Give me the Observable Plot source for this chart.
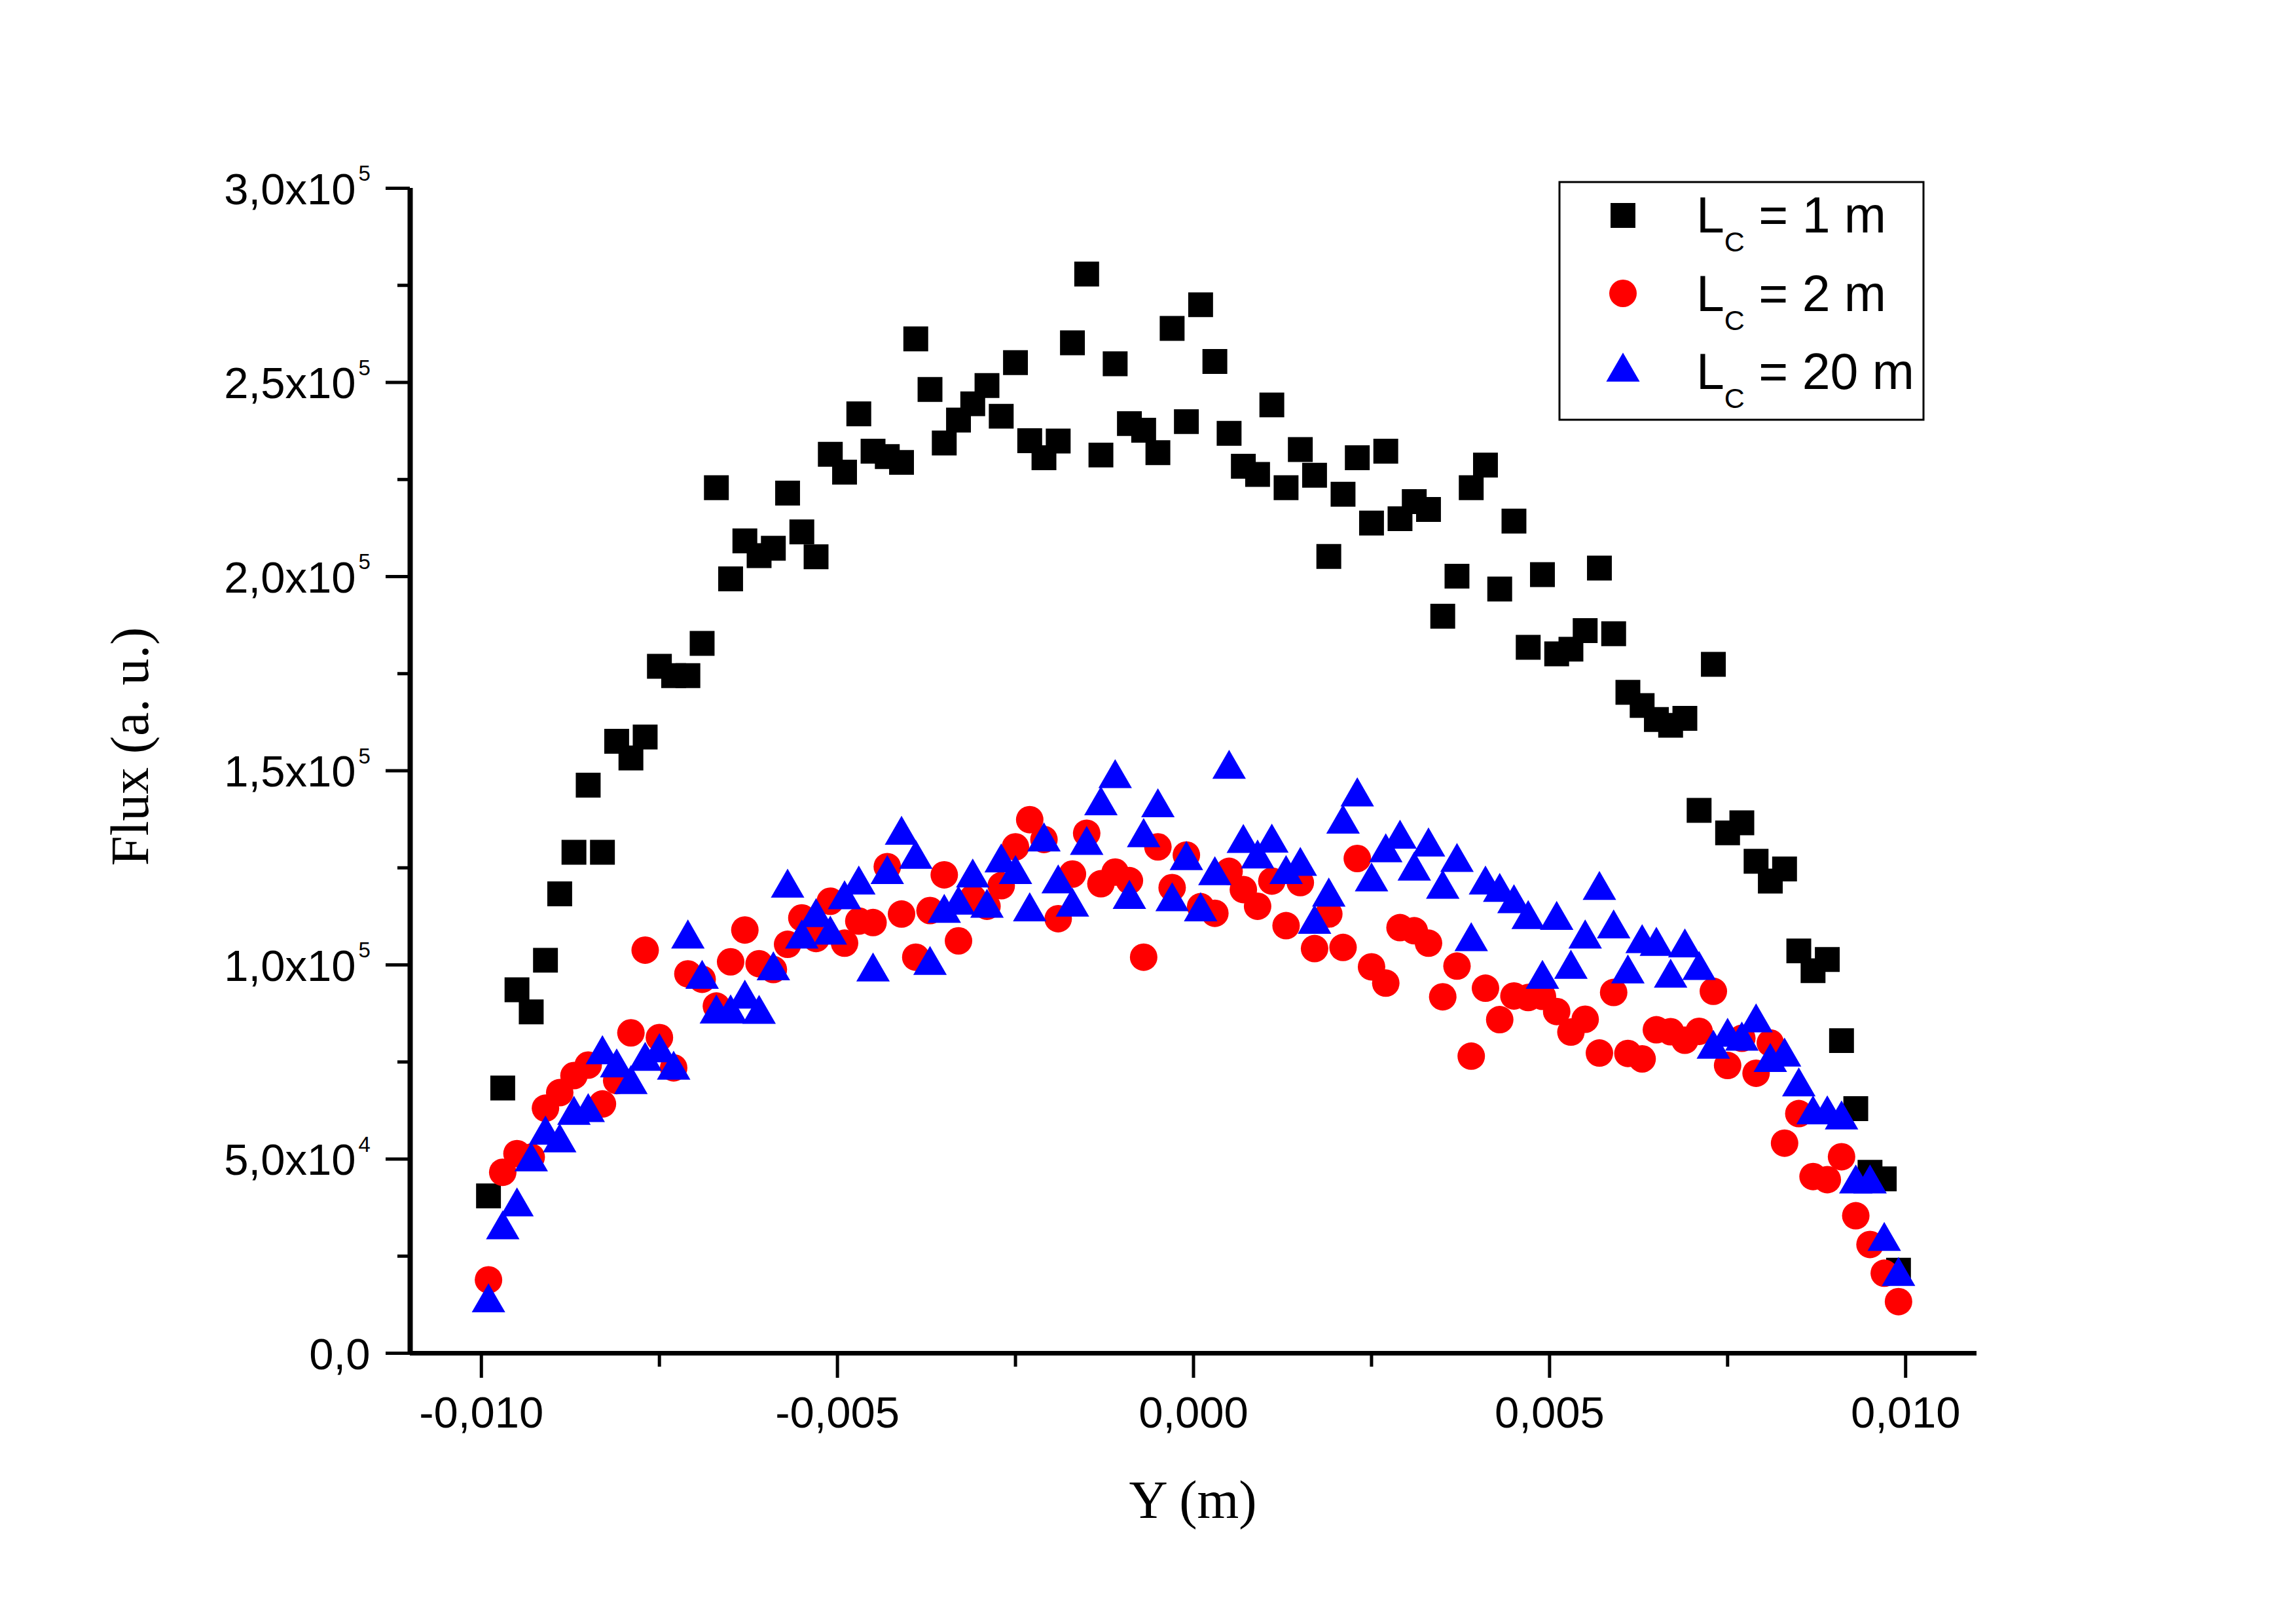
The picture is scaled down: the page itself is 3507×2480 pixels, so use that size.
<!DOCTYPE html>
<html>
<head>
<meta charset="utf-8">
<script src="https://cdn.jsdelivr.net/npm/d3@7"></script>
<script src="https://cdn.jsdelivr.net/npm/@observablehq/plot@0.6"></script>
<style>
html, body { margin: 0; padding: 0; background: #ffffff; }
svg { display: block; }
</style>
</head>
<body>
<div id="chart"></div>
<script>
// Position Y (m) of each sample
const positions = [
  -0.0099, -0.0097, -0.0095, -0.0093, -0.0091, -0.0089, -0.0087, -0.0085, -0.0083, -0.0081,
  -0.0079, -0.0077, -0.0075, -0.0073, -0.0071, -0.0069, -0.0067, -0.0065, -0.0063, -0.0061,
  -0.0059, -0.0057, -0.0055, -0.0053, -0.0051, -0.0049, -0.0047, -0.0045, -0.0043, -0.0041,
  -0.0039, -0.0037, -0.0035, -0.0033, -0.0031, -0.0029, -0.0027, -0.0025, -0.0023, -0.0021,
  -0.0019, -0.0017, -0.0015, -0.0013, -0.0011, -0.0009, -0.0007, -0.0005, -0.0003, -0.0001,
  0.0001, 0.0003, 0.0005, 0.0007, 0.0009, 0.0011, 0.0013, 0.0015, 0.0017, 0.0019,
  0.0021, 0.0023, 0.0025, 0.0027, 0.0029, 0.0031, 0.0033, 0.0035, 0.0037, 0.0039,
  0.0041, 0.0043, 0.0045, 0.0047, 0.0049, 0.0051, 0.0053, 0.0055, 0.0057, 0.0059,
  0.0061, 0.0063, 0.0065, 0.0067, 0.0069, 0.0071, 0.0073, 0.0075, 0.0077, 0.0079,
  0.0081, 0.0083, 0.0085, 0.0087, 0.0089, 0.0091, 0.0093, 0.0095, 0.0097, 0.0099
];

// Flux (a. u.) for L_C = 1 m
const flux1m = [
  40500, 68300, 93600, 87900, 101200, 118300, 129000, 146300, 129000, 157600,
  153300, 158700, 176900, 174500, 174500, 182800, 222900, 199400, 209200, 205400,
  207300, 221500, 211500, 205100, 231500, 226900, 241900, 232300, 230900, 229400,
  261200, 248200, 234400, 240300, 244500, 249200, 241300, 255100, 235000, 230600,
  234900, 260200, 277900, 231300, 254800, 239400, 237700, 231900, 263900, 239900,
  270000, 255400, 236900, 228400, 226300, 244200, 222900, 232700, 226100, 205200,
  221200, 230600, 213800, 232300, 214900, 219300, 217300, 189800, 200100, 222900,
  228700, 196800, 214300, 181800, 200500, 180100, 181300, 186100, 202200, 185300,
  170200, 166800, 163200, 161700, 163500, 139800, 177400, 134000, 136600, 126700,
  121600, 124700, 103600, 98500, 101400, 80500, 63000, 46600, 44900, 21400
];

// Flux (a. u.) for L_C = 2 m
const flux2m = [
  18900, 46600, 51400, 50500, 63100, 67100, 71500, 74200, 64200, 70200,
  82500, 103800, 81300, 73500, 97700, 96300, 89400, 100800, 109000, 100300,
  98800, 105300, 112100, 106800, 116400, 105600, 111300, 110900, 125300, 113100,
  102000, 114000, 123200, 106200, 117200, 115100, 120400, 130400, 137400, 132300,
  111900, 123400, 133900, 120900, 123900, 121700, 102000, 130400, 119900, 128300,
  115000, 113300, 124100, 119400, 115100, 121600, 110100, 121200, 104200, 113100,
  104500, 127400, 99500, 95300, 109600, 108800, 105600, 91800, 99700, 76500,
  94000, 85900, 92000, 91600, 91900, 88000, 82700, 86000, 77300, 92900,
  77200, 75800, 83300, 82800, 80600, 82900, 93200, 74100, 81100, 72100,
  79900, 54100, 61700, 45500, 44700, 50600, 35400, 28000, 20600, 13300
];

// Flux (a. u.) for L_C = 20 m
const flux20m = [
  14200, 33000, 38900, 50500, 57400, 55400, 62500, 63200, 78100, 74700,
  70400, 76400, 78600, 74100, 107900, 97500, 88600, 88600, 92400, 88500,
  99700, 121000, 107900, 113400, 108900, 118000, 121800, 99400, 124500, 134600,
  128400, 101100, 114500, 116600, 123600, 115800, 127500, 124500, 114900, 132900,
  122100, 116100, 132000, 142200, 149200, 118100, 134000, 141700, 117500, 128100,
  114900, 124200, 151600, 132500, 128500, 132600, 124500, 126600, 111700, 118700,
  137500, 144500, 122600, 130100, 133600, 125400, 131600, 120700, 127600, 107200,
  121800, 119900, 117000, 112900, 97500, 112700, 100100, 107900, 120400, 110500,
  98900, 106700, 106000, 97800, 105600, 99800, 79500, 82600, 81600, 86300,
  76100, 77500, 69800, 62600, 62600, 61300, 44800, 44800, 30000, 21000
];

const seriesLabels = ["1 m", "2 m", "20 m"];
const seriesColors = ["#000000", "#ff0000", "#0000ff"];

const xMajorTicks = [-0.010, -0.005, 0, 0.005, 0.010];
const xMinorTicks = [-0.0075, -0.0025, 0.0025, 0.0075];
const xTickLabels = ["-0,010", "-0,005", "0,000", "0,005", "0,010"];

const yMajorTicks = [0, 50000, 100000, 150000, 200000, 250000, 300000];
const yMinorTicks = [25000, 75000, 125000, 175000, 225000, 275000];
const yTickMantissa = ["0,0", "5,0x10", "1,0x10", "1,5x10", "2,0x10", "2,5x10", "3,0x10"];
const yTickExponent = ["", "4", "5", "5", "5", "5", "5"];

const xDomain = [-0.011, 0.011];
const yDomain = [0, 300000];

// ---- build tables ----
const s1 = positions.map((p, i) => ({p, v: flux1m[i]}));
const s2 = positions.map((p, i) => ({p, v: flux2m[i]}));
const s3 = positions.map((p, i) => ({p, v: flux20m[i]}));
const xLabels = xMajorTicks.map((v, i) => ({v, t: xTickLabels[i]}));
const yLabels = yMajorTicks.map((v, i) => ({v, m: yTickMantissa[i], e: yTickExponent[i]}));

const SANS = "'Liberation Sans', Arial, sans-serif";
const SERIF = "'Liberation Serif', 'Times New Roman', serif";

const W = 3507, H = 2480;

const chart = Plot.plot({
  width: W,
  height: H,
  marginLeft: 626,
  marginRight: 488,
  marginTop: 287,
  marginBottom: 414,
  style: {background: "#ffffff", color: "#000000"},
  x: {domain: xDomain, label: null},
  y: {domain: yDomain, label: null},
  marks: [
    Plot.axisX(xMajorTicks, {tickSize: 38, strokeWidth: 5, tickFormat: () => "", label: null}),
    Plot.axisX(xMinorTicks, {tickSize: 21, strokeWidth: 5, tickFormat: () => "", label: null}),
    Plot.axisY(yMajorTicks, {tickSize: 37, strokeWidth: 5, tickFormat: () => "", label: null}),
    Plot.axisY(yMinorTicks, {tickSize: 19, strokeWidth: 5, tickFormat: () => "", label: null}),
    Plot.ruleY([yDomain[0]], {stroke: "#000", strokeWidth: 7}),
    Plot.ruleX([xDomain[0]], {stroke: "#000", strokeWidth: 8}),
    Plot.text(xLabels, {x: "v", text: "t", frameAnchor: "bottom", textAnchor: "middle", lineAnchor: "middle",
      dy: 92, fontSize: 67, fontFamily: SANS, fill: "#000"}),
    Plot.text(yLabels.filter(d => d.e === ""), {y: "v", text: "m", frameAnchor: "left", textAnchor: "end", lineAnchor: "middle",
      dx: -61, dy: 3, fontSize: 67, fontFamily: SANS, fill: "#000"}),
    Plot.text(yLabels.filter(d => d.e !== ""), {y: "v", text: "m", frameAnchor: "left", textAnchor: "end", lineAnchor: "middle",
      dx: -83, dy: 3, fontSize: 67, fontFamily: SANS, fill: "#000"}),
    Plot.text(yLabels.filter(d => d.e !== ""), {y: "v", text: "e", frameAnchor: "left", textAnchor: "start", lineAnchor: "middle",
      dx: -79, dy: -22, fontSize: 33, fontFamily: SANS, fill: "#000"}),
    Plot.dot(s1, {x: "p", y: "v", symbol: "square", r: 21.4, fill: seriesColors[0]}),
    Plot.dot(s2, {x: "p", y: "v", symbol: "circle", r: 21, fill: seriesColors[1]}),
    Plot.dot(s3, {x: "p", y: "v", symbol: "triangle", r: 19, dy: 7, fill: seriesColors[2]})
  ]
});

document.getElementById("chart").appendChild(chart);

// ---- axis titles ----
const svg = d3.select(chart);
svg.append("text")
  .attr("transform", "translate(226,1140) rotate(-90)")
  .attr("text-anchor", "middle")
  .attr("font-family", SERIF)
  .attr("font-size", 82)
  .attr("fill", "#000")
  .text("Flux (a. u.)");

svg.append("text")
  .attr("x", 1822)
  .attr("y", 2318)
  .attr("text-anchor", "middle")
  .attr("font-family", SERIF)
  .attr("font-size", 82)
  .attr("fill", "#000")
  .text("Y (m)");

// ---- legend ----
const lg = svg.append("g").attr("text-anchor", "start");
lg.append("rect")
  .attr("x", 2382).attr("y", 278).attr("width", 556).attr("height", 363)
  .attr("fill", "none").attr("stroke", "#000").attr("stroke-width", 3);

const rowY = [329, 448, 561];
const baseY = [355, 475, 594];
const symX = 2479;
const symbols = [d3.symbolSquare, d3.symbolCircle, d3.symbolTriangle];
const sizes = [Math.PI * 21.4 * 21.4, Math.PI * 21 * 21, Math.PI * 19 * 19];
const symShift = [0, 0, 7];
seriesLabels.forEach((lab, i) => {
  lg.append("path")
    .attr("d", d3.symbol(symbols[i], sizes[i])())
    .attr("transform", `translate(${symX},${rowY[i] + symShift[i]})`)
    .attr("fill", seriesColors[i]);
  const t = lg.append("text")
    .attr("x", 2591).attr("y", baseY[i])
    .attr("text-anchor", "start")
    .attr("font-family", SANS).attr("font-size", 77).attr("fill", "#000");
  t.append("tspan").text("L");
  t.append("tspan").attr("font-size", 43).attr("dy", 29).text("C");
  t.append("tspan").attr("font-size", 77).attr("dy", -29).text(" = " + lab);
});
</script>
</body>
</html>
